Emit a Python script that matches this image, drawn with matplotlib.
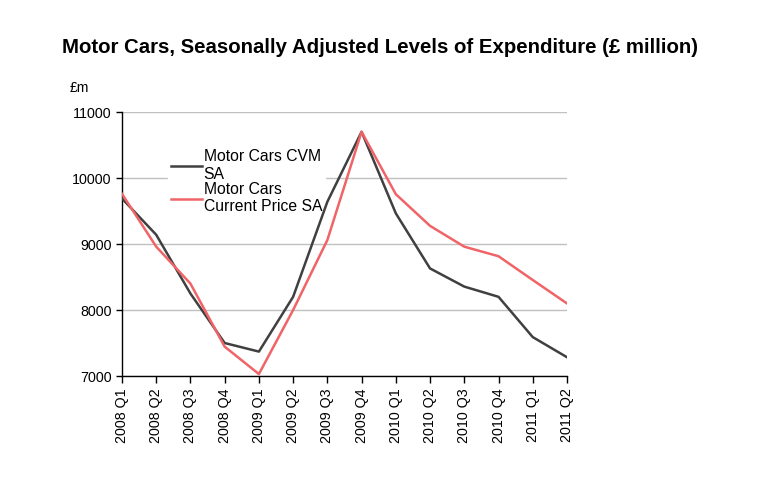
import matplotlib
matplotlib.use("Agg")
import matplotlib.pyplot as plt

# Data
quarters = ["2008 Q1", "2008 Q2", "2008 Q3", "2008 Q4",
            "2009 Q1", "2009 Q2", "2009 Q3", "2009 Q4",
            "2010 Q1", "2010 Q2", "2010 Q3", "2010 Q4",
            "2011 Q1", "2011 Q2"]
cvm_sa = [9690, 9140, 8250, 7500, 7370, 8200, 9640, 10700,
          9465, 8630, 8355, 8200, 7590, 7285]
current_price_sa = [9760, 8960, 8400, 7445, 7030, 8000, 9060, 10700,
                    9755, 9275, 8960, 8815, 8455, 8100]

plt.rcParams["font.family"] = ["Liberation Sans", "DejaVu Sans"]

fig = plt.figure(figsize=(7.6, 4.86), dpi=100)
ax = fig.add_axes([0.1605, 0.2263, 0.5855, 0.5432])

x = list(range(len(quarters)))
ax.plot(x, cvm_sa, color="#404040", lw=1.8, label="Motor Cars CVM\nSA", zorder=3)
ax.plot(x, current_price_sa, color="#f06468", lw=1.8, label="Motor Cars\nCurrent Price SA", zorder=3)

ax.set_xlim(0, len(quarters) - 1)
ax.set_ylim(7000, 11000)
ax.set_yticks([7000, 8000, 9000, 10000, 11000])
ax.yaxis.grid(True, color="#c0c0c0", lw=1)
ax.set_axisbelow(True)

ax.set_xticks(x)
ax.set_xticklabels(quarters, rotation=90, fontsize=10.3)
ax.tick_params(axis="y", labelsize=10.3, length=4, width=1)
ax.tick_params(axis="x", length=5, width=1, pad=4)

for s in ["top", "right"]:
    ax.spines[s].set_visible(False)
for s in ["left", "bottom"]:
    ax.spines[s].set_color("black")
    ax.spines[s].set_linewidth(1)

leg = ax.legend(loc="upper left", bbox_to_anchor=(0.085, 0.9), frameon=True,
                fontsize=11.3, handlelength=2.0, handletextpad=0.1,
                labelspacing=0.0, borderpad=0.2)
leg.get_frame().set_edgecolor("white")
leg.get_frame().set_facecolor("white")
leg.get_frame().set_alpha(1)
leg.set_zorder(2)
for t in leg.get_texts():
    t.set_linespacing(1.2)

fig.text(0.092, 0.81, "£m", fontsize=10)
fig.text(0.5, 0.903, "Motor Cars, Seasonally Adjusted Levels of Expenditure (£ million)",
         ha="center", va="center", fontsize=14.7, fontweight="bold")

fig.savefig("out.png", dpi=100)
